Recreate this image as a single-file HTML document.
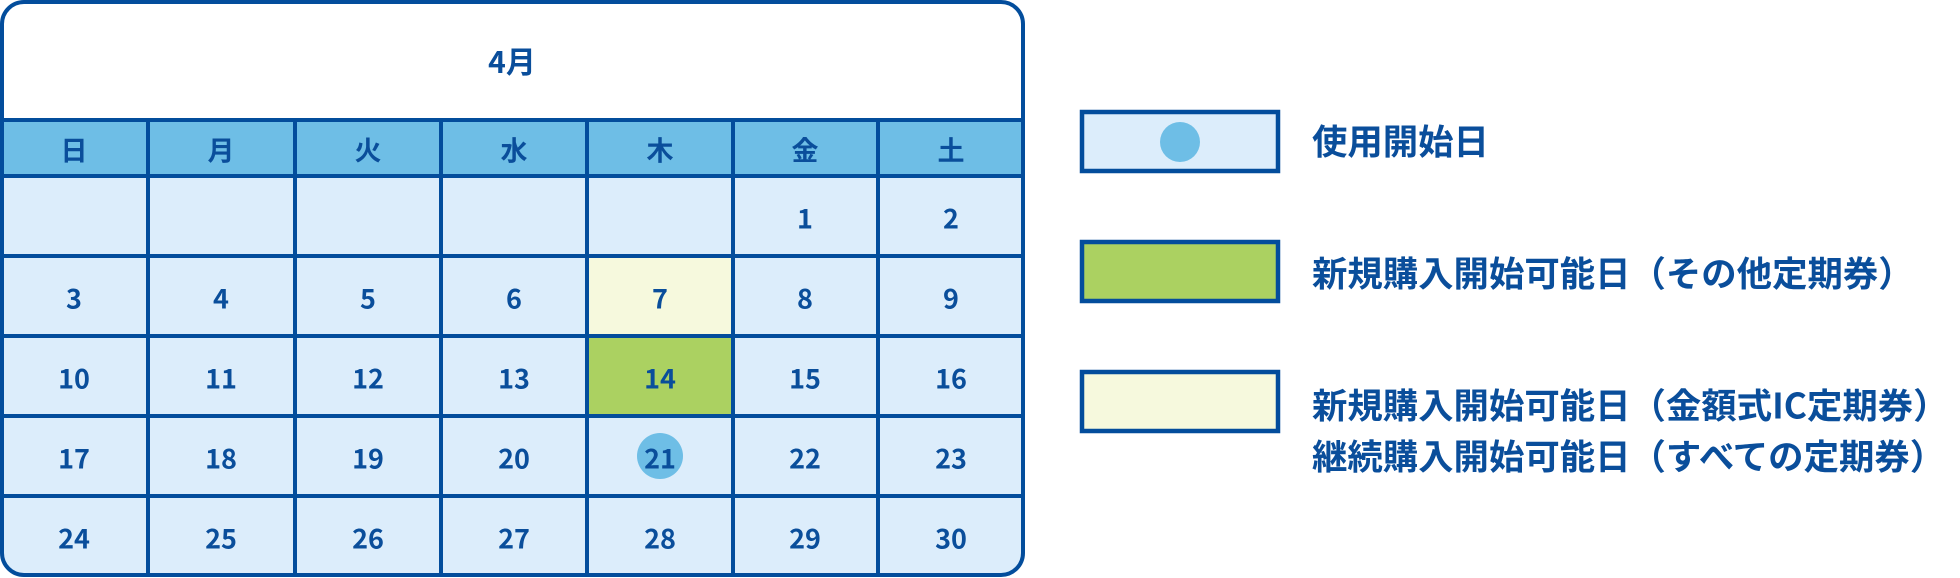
<!DOCTYPE html>
<html><head><meta charset="utf-8"><style>
html,body{margin:0;padding:0;background:#fff;}
svg{display:block;}
text{font-family:"Noto Sans CJK JP","Liberation Sans",sans-serif;font-weight:bold;fill:#0a4e9b;}
</style></head><body>
<svg width="1960" height="578" viewBox="0 0 1960 578" xmlns="http://www.w3.org/2000/svg">
<defs><clipPath id="c"><rect x="2" y="2" width="1021" height="573" rx="22"/></clipPath></defs>
<g clip-path="url(#c)">
<rect x="0" y="0" width="1030" height="120" fill="#fff"/>
<rect x="0" y="120" width="1030" height="55" fill="#6ebee6"/>
<rect x="0" y="175" width="1030" height="405" fill="#dcedfb"/>
<rect x="587" y="255" width="146" height="81" fill="#f6f9dd"/>
<rect x="587" y="336" width="146" height="80" fill="#abd161"/>
</g>
<circle cx="660" cy="456" r="23" fill="#6ebee6"/>
<g stroke="#034d9c" stroke-width="4" fill="none">
<rect x="2" y="2" width="1021" height="573" rx="22"/>
<line x1="0" y1="120" x2="1025" y2="120"/>
<line x1="0" y1="176" x2="1025" y2="176"/>
<line x1="0" y1="256" x2="1025" y2="256"/>
<line x1="0" y1="336" x2="1025" y2="336"/>
<line x1="0" y1="416" x2="1025" y2="416"/>
<line x1="0" y1="496" x2="1025" y2="496"/>
<line x1="148" y1="120" x2="148" y2="577"/>
<line x1="295" y1="120" x2="295" y2="577"/>
<line x1="441" y1="120" x2="441" y2="577"/>
<line x1="587" y1="120" x2="587" y2="577"/>
<line x1="733" y1="120" x2="733" y2="577"/>
<line x1="878" y1="120" x2="878" y2="577"/>
</g>
<g font-size="27" text-anchor="middle" dominant-baseline="central">
<text x="512" y="60" font-size="30">4月</text>
<text x="74" y="149">日</text><text x="221" y="149">月</text><text x="368" y="149">火</text><text x="514" y="149">水</text><text x="660" y="149">木</text><text x="805" y="149">金</text><text x="951" y="149">土</text>
<text x="805" y="217">1</text><text x="951" y="217">2</text>
<text x="74" y="297">3</text><text x="221" y="297">4</text><text x="368" y="297">5</text><text x="514" y="297">6</text><text x="660" y="297">7</text><text x="805" y="297">8</text><text x="951" y="297">9</text>
<text x="74" y="377">10</text><text x="221" y="377">11</text><text x="368" y="377">12</text><text x="514" y="377">13</text><text x="660" y="377">14</text><text x="805" y="377">15</text><text x="951" y="377">16</text>
<text x="74" y="457">17</text><text x="221" y="457">18</text><text x="368" y="457">19</text><text x="514" y="457">20</text><text x="660" y="457">21</text><text x="805" y="457">22</text><text x="951" y="457">23</text>
<text x="74" y="537">24</text><text x="221" y="537">25</text><text x="368" y="537">26</text><text x="514" y="537">27</text><text x="660" y="537">28</text><text x="805" y="537">29</text><text x="951" y="537">30</text>
</g>
<g stroke="#034d9c" stroke-width="4.5">
<rect x="1082" y="112" width="196" height="59" fill="#dcedfb"/>
<rect x="1082" y="242" width="196" height="59" fill="#abd161"/>
<rect x="1082" y="372" width="196" height="59" fill="#f6f9dd"/>
</g>
<circle cx="1180" cy="142" r="20" fill="#6ebee6"/>
<g font-size="35.4" dominant-baseline="central">
<text x="1312" y="140">使用開始日</text>
<text x="1312" y="272">新規購入開始可能日（その他定期券）</text>
<text x="1312" y="404">新規購入開始可能日（金額式IC定期券）</text>
<text x="1312" y="455">継続購入開始可能日（すべての定期券）</text>
</g>
</svg>
</body></html>
